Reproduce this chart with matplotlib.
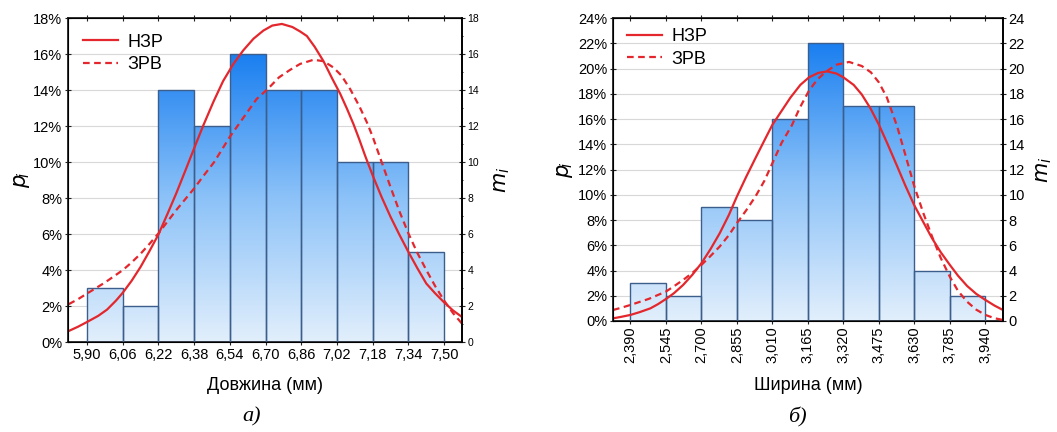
import numpy as np
import matplotlib
matplotlib.use('Agg')
import matplotlib.pyplot as plt
from matplotlib.colors import LinearSegmentedColormap
from matplotlib.ticker import FuncFormatter, MultipleLocator

plt.rcParams['font.family'] = ['Liberation Sans', 'DejaVu Sans']

# --- a) length ---
len_edges = [5.90, 6.06, 6.22, 6.38, 6.54, 6.70, 6.86, 7.02, 7.18, 7.34, 7.50]
len_counts = [3, 2, 14, 12, 16, 14, 14, 10, 10, 5]

len_norm_x = [5.818, 5.86, 5.90, 5.95, 5.99, 6.03, 6.06, 6.10, 6.14, 6.18, 6.22, 6.26,
              6.30, 6.34, 6.38, 6.42, 6.467, 6.51, 6.556, 6.60, 6.646, 6.69, 6.73,
              6.773, 6.82, 6.855, 6.885, 6.92, 6.96, 7.00, 7.034, 7.065, 7.094, 7.12,
              7.146, 7.18, 7.22, 7.26, 7.30, 7.34, 7.38, 7.42, 7.46, 7.50, 7.54, 7.58]
len_norm_y = [0.61, 0.85, 1.11, 1.45, 1.80, 2.30, 2.73, 3.40, 4.17, 5.05, 5.97, 7.10,
              8.26, 9.50, 10.76, 12.0, 13.36, 14.5, 15.45, 16.2, 16.85, 17.30, 17.58,
              17.67, 17.50, 17.25, 17.0, 16.40, 15.59, 14.6, 13.8, 12.95, 12.1, 11.25,
              10.35, 9.25, 8.05, 6.95, 5.95, 5.0, 4.1, 3.25, 2.7, 2.2, 1.75, 1.39]

len_weib_x = [5.818, 5.86, 5.90, 5.98, 6.06, 6.10, 6.14, 6.18, 6.22, 6.26, 6.30, 6.34,
              6.38, 6.42, 6.47, 6.51, 6.54, 6.58, 6.62, 6.66, 6.70, 6.721, 6.76, 6.81,
              6.855, 6.915, 6.96, 7.004, 7.04, 7.079, 7.12, 7.154, 7.18, 7.22, 7.26,
              7.30, 7.34, 7.38, 7.42, 7.46, 7.50, 7.54, 7.58]
len_weib_y = [2.10, 2.38, 2.69, 3.30, 3.99, 4.42, 4.9, 5.45, 6.03, 6.68, 7.33, 7.93,
              8.53, 9.2, 10.0, 10.8, 11.4, 12.1, 12.8, 13.5, 13.95, 14.2, 14.7, 15.12,
              15.45, 15.68, 15.6, 15.25, 14.8, 14.05, 13.1, 12.2, 11.4, 10.0, 8.6,
              7.25, 6.03, 4.95, 4.0, 3.1, 2.3, 1.6, 1.02]

# --- б) width ---
wid_edges = [2.390, 2.545, 2.700, 2.855, 3.010, 3.165, 3.320, 3.475, 3.630, 3.785, 3.940]
wid_counts = [3, 2, 9, 8, 16, 22, 17, 17, 4, 2]

wid_norm_x = [2.314, 2.35, 2.390, 2.43, 2.477, 2.51, 2.545, 2.58, 2.62, 2.66, 2.70, 2.74,
              2.78, 2.82, 2.855, 2.895, 2.936, 2.975, 3.010, 3.045, 3.089, 3.132, 3.17,
              3.21, 3.249, 3.29, 3.32, 3.365, 3.40, 3.438, 3.475, 3.511, 3.555, 3.59,
              3.630, 3.67, 3.707, 3.745, 3.785, 3.82, 3.86, 3.90, 3.940, 3.98, 4.017]
wid_norm_y = [0.21, 0.33, 0.48, 0.70, 1.0, 1.33, 1.74, 2.2, 2.85, 3.65, 4.57, 5.7,
              6.95, 8.4, 9.86, 11.4, 12.9, 14.3, 15.54, 16.5, 17.7, 18.7, 19.3,
              19.65, 19.77, 19.6, 19.3, 18.7, 17.95, 16.85, 15.55, 14.1, 12.25, 10.75,
              9.15, 7.8, 6.56, 5.45, 4.44, 3.6, 2.78, 2.15, 1.67, 1.22, 0.87]

wid_weib_x = [2.314, 2.35, 2.390, 2.47, 2.545, 2.58, 2.62, 2.66, 2.70, 2.74, 2.78, 2.82,
              2.855, 2.895, 2.936, 2.975, 3.010, 3.05, 3.095, 3.13, 3.17, 3.205, 3.24,
              3.29, 3.345, 3.40, 3.44, 3.475, 3.51, 3.555, 3.59, 3.630, 3.67, 3.707,
              3.745, 3.785, 3.82, 3.86, 3.90, 3.940, 3.98, 4.017]
wid_weib_y = [0.87, 1.05, 1.27, 1.75, 2.33, 2.75, 3.25, 3.8, 4.44, 5.15, 5.9, 6.8,
              7.75, 8.75, 9.86, 11.1, 12.5, 14.1, 15.5, 16.9, 18.25, 19.1, 19.7,
              20.3, 20.52, 20.2, 19.7, 18.9, 17.7, 15.4, 13.2, 10.65, 8.5, 6.7,
              5.0, 3.5, 2.4, 1.53, 0.9, 0.48, 0.22, 0.08]

total = 100

red = '#e3272d'
edge = '#3b5e8c'
cmap = LinearSegmentedColormap.from_list('bars', ['#e2effc', '#8cc2f8', '#1a7ff0'])


def draw_panel(ax, edges, counts, nx, ny, wx, wy, ymax, xlim, rotate, rfont, minor_r,
               leg_anchor):
    edges = np.array(edges)
    widths = np.diff(edges)
    top = max(counts)
    grad = np.linspace(0, 1, 256).reshape(-1, 1)
    bars = ax.bar(edges[:-1], np.array(counts) / total * 100, width=widths, align='edge',
                  facecolor='none', edgecolor=edge, linewidth=1.0, zorder=3)
    for b in bars:
        im = ax.imshow(grad, cmap=cmap, origin='lower', aspect='auto',
                       extent=[edges[0], edges[-1], 0, top], zorder=2)
        im.set_clip_path(b)
    ax.plot(nx, ny, color=red, lw=1.6, zorder=4, label='НЗР')
    ax.plot(wx, wy, color=red, lw=1.6, ls=(0, (3, 2)), zorder=4, label='ЗРВ')

    ax.set_xlim(*xlim)
    ax.set_ylim(0, ymax)
    ax.set_yticks(np.arange(0, ymax + 1, 2))
    ax.yaxis.set_major_formatter(FuncFormatter(lambda v, p: '%d%%' % v))
    ax.set_xticks(edges)
    if rotate:
        ax.set_xticklabels([('%.3f' % e).replace('.', ',') for e in edges], rotation=90)
    else:
        ax.set_xticklabels([('%.2f' % e).replace('.', ',') for e in edges])
    ax.grid(axis='y', color='#d8d8d8', lw=0.8, zorder=0)
    ax.set_axisbelow(True)
    ax.tick_params(axis='both', labelsize=10.5, direction='inout', length=4,
                   top=True, color='#222222', pad=2)
    for s in ax.spines.values():
        s.set_color('#222222')
        s.set_linewidth(1.3)

    ax2 = ax.twinx()
    ax2.set_ylim(0, ymax)
    ax2.set_yticks(np.arange(0, ymax + 1, 2))
    if minor_r:
        ax2.yaxis.set_minor_locator(MultipleLocator(1))
        ax2.tick_params(axis='y', which='minor', length=2, direction='inout')
    ax2.tick_params(axis='y', labelsize=rfont, direction='inout', length=4,
                    color='#222222', pad=2)
    ax2.spines['right'].set_linewidth(1.3)

    ax.legend(loc='upper left', bbox_to_anchor=leg_anchor, frameon=False, fontsize=13,
              handlelength=1.95, borderaxespad=0, borderpad=0, labelspacing=0.3,
              handletextpad=0.5)
    return ax2


fig = plt.figure(figsize=(10.57, 4.32), dpi=100)

axL = fig.add_axes([68 / 1057, 1 - 342 / 432, 394 / 1057, 324 / 432])
draw_panel(axL, len_edges, len_counts, len_norm_x, len_norm_y, len_weib_x, len_weib_y,
           18, (5.815, 7.58), False, 7.5, True, (0.038, 0.952))

axR = fig.add_axes([613 / 1057, 1 - 321 / 432, 390 / 1057, 303 / 432])
draw_panel(axR, wid_edges, wid_counts, wid_norm_x, wid_norm_y, wid_weib_x, wid_weib_y,
           24, (2.314, 4.017), True, 10.5, False, (0.036, 0.966))

lab = dict(fontsize=15, style='italic', family=['Liberation Serif', 'DejaVu Serif'],
           rotation=90, ha='center', va='center')
fig.text(22 / 1057, 1 - 180 / 432, '$p_{\\!i}$', **lab)
fig.text(502 / 1057, 1 - 180 / 432, '$m_{i}$', **lab)
fig.text(565 / 1057, 1 - 170 / 432, '$p_{\\!i}$', **lab)
fig.text(1044 / 1057, 1 - 170 / 432, '$m_{i}$', **lab)

fig.text(265 / 1057, 1 - 385 / 432, 'Довжина (мм)', fontsize=13, ha='center', va='center')
fig.text(808 / 1057, 1 - 385 / 432, 'Ширина (мм)', fontsize=13, ha='center', va='center')

cap = dict(fontsize=16, style='italic', family=['Liberation Serif', 'DejaVu Serif'],
           ha='center', va='center')
fig.text(252 / 1057, 1 - 417 / 432, 'а)', **cap)
fig.text(797 / 1057, 1 - 417 / 432, 'б)', **cap)

fig.savefig('out.png', dpi=100)
